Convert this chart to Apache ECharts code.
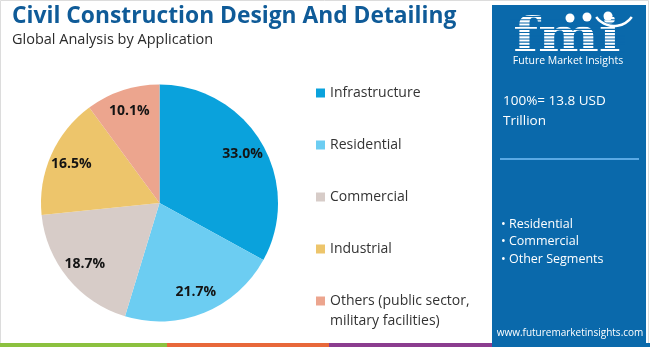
<!DOCTYPE html>
<html>
<head>
<meta charset="utf-8">
<script src="https://cdn.jsdelivr.net/npm/echarts@6/dist/echarts.min.js"></script>
<style>
  html, body { margin: 0; padding: 0; background: #fff; }
  #chart { width: 650px; height: 347px; }
</style>
</head>
<body>
<div id="chart"></div>
<script>
// Market share by application (percent of 13.8 USD trillion)
const categories = [
  'Infrastructure',
  'Residential',
  'Commercial',
  'Industrial',
  'Others (public sector,\nmilitary facilities)'
];
const shares = [33.0, 21.7, 18.7, 16.5, 10.1];
const sliceColors = ['#0aa2dc', '#6ccdf2', '#d7ccc8', '#edc56b', '#eca58e'];

const titleText = 'Civil Construction Design And Detailing';
const subtitleText = 'Global Analysis by Application';
const totalLines = ['100%= 13.8 USD', 'Trillion'];
const otherSegments = ['Residential', 'Commercial', 'Other Segments'];

const FONT = '"Open Sans", "Noto Sans", sans-serif';
const PANEL = '#0a69ab';

const chart = echarts.init(document.getElementById('chart'), null, { renderer: 'canvas' });

const pieData = categories.map((name, i) => ({
  name: name,
  value: shares[i],
  itemStyle: { color: sliceColors[i] }
}));

const center = [159.5, 203];
const R = 118.5;

// Legend geometry: first row centre, row pitch, text start
const LEGEND_LEFT = 316, LEGEND_FIRST = 93, LEGEND_PITCH = 52;

// Category names that wrap: the legend row shows the first line,
// continuation lines are set underneath the row's text.
const wrapLines = [];
categories.forEach((name, i) => {
  name.split('\n').slice(1).forEach((line, k) => {
    wrapLines.push({
      type: 'text',
      x: LEGEND_LEFT + 14,
      y: LEGEND_FIRST + i * LEGEND_PITCH + (k + 1) * 20,
      style: { text: line, fontFamily: FONT, fontSize: 14, fill: '#333', verticalAlign: 'middle' },
      z: 10
    });
  });
});

// Stripes drawn across the logo lettering
const stripes = [];
for (let y = 16; y <= 52; y += 3.2) {
  stripes.push({
    type: 'rect',
    shape: { x: 510, y: y, width: 115, height: 1.1 },
    style: { fill: PANEL },
    z: 12
  });
}

option = {
  backgroundColor: '#ffffff',
  animation: false,
  legend: {
    orient: 'vertical',
    left: LEGEND_LEFT,
    top: LEGEND_FIRST - 10,
    height: 300,
    padding: 0,
    icon: 'rect',
    itemWidth: 9,
    itemHeight: 9,
    itemGap: LEGEND_PITCH - 20,
    selectedMode: false,
    formatter: name => name.split('\n')[0],
    textStyle: { fontFamily: FONT, fontSize: 14, color: '#333', lineHeight: 20 },
    data: categories
  },
  series: [
    {
      type: 'pie',
      center: center,
      radius: [0, R],
      startAngle: 90,
      clockwise: true,
      label: { show: false },
      labelLine: { show: false },
      silent: true,
      data: pieData
    },
    {
      // transparent ring used only to place value labels further out
      type: 'pie',
      center: center,
      radius: [R * 0.58, R],
      startAngle: 90,
      clockwise: true,
      silent: true,
      legendHoverLink: false,
      itemStyle: { color: 'rgba(0,0,0,0)' },
      label: {
        show: true,
        position: 'inside',
        formatter: p => p.value.toFixed(1) + '%',
        fontFamily: FONT,
        fontWeight: 'bold',
        fontSize: 14,
        color: '#141414'
      },
      labelLine: { show: false },
      data: pieData.map(d => ({ name: d.name, value: d.value }))
    }
  ],
  graphic: [
    // outer frame
    { type: 'rect', shape: { x: 0.5, y: 0.5, width: 648, height: 345 },
      style: { fill: 'none', stroke: '#dcdcdc', lineWidth: 1 }, z: 1 },
    // title
    { type: 'text', x: 12, y: 17,
      style: { text: titleText, fontFamily: FONT, fontWeight: 'bold', fontSize: 22.8, fill: '#0f5b98',
               verticalAlign: 'middle' }, z: 10 },
    { type: 'text', x: 12, y: 40,
      style: { text: subtitleText, fontFamily: FONT, fontSize: 14.5, fill: '#2b2b2b',
               verticalAlign: 'middle' }, z: 10 },
    ...wrapLines,
    // right panel
    { type: 'rect', shape: { x: 492, y: 5, width: 154, height: 338 },
      style: { fill: PANEL }, z: 5 },
    // logo
    { type: 'text', x: 567, y: 39, scaleX: 1.25, scaleY: 1,
      style: { text: 'fmi', fontFamily: '"DejaVu Serif", serif', fontWeight: 'bold', fontSize: 46,
               fill: '#ffffff', align: 'center', verticalAlign: 'middle' }, z: 11 },
    ...stripes,
    { type: 'circle', shape: { cx: 570, cy: 18, r: 4.5 }, style: { fill: '#ffffff' }, z: 13 },
    { type: 'circle', shape: { cx: 587, cy: 17, r: 4.5 }, style: { fill: '#ffffff' }, z: 13 },
    { type: 'circle', shape: { cx: 608, cy: 16, r: 4.5 }, style: { fill: '#ffffff' }, z: 13 },
    { type: 'arc', shape: { cx: 614, cy: 4, r: 22, startAngle: Math.PI * 0.2, endAngle: Math.PI * 0.8 },
      style: { stroke: '#ffffff', lineWidth: 2.5, fill: 'none' }, z: 13 },
    { type: 'text', x: 568, y: 61,
      style: { text: 'Future Market Insights', fontFamily: FONT, fontSize: 10.5, fill: '#ffffff',
               align: 'center', verticalAlign: 'middle' }, z: 13 },
    // total value
    { type: 'text', x: 503, y: 101,
      style: { text: totalLines.join('\n'), fontFamily: FONT, fontSize: 13.5, lineHeight: 20, fill: '#ffffff',
               verticalAlign: 'top', padding: [-10, 0, 0, 0] }, z: 10 },
    { type: 'rect', shape: { x: 500, y: 158, width: 139, height: 2 },
      style: { fill: '#5aa9e4' }, z: 10 },
    { type: 'text', x: 501, y: 215.5,
      style: { text: otherSegments.map(s => '\u2022 ' + s).join('\n'), fontFamily: FONT, fontSize: 12.5,
               lineHeight: 17.5, fill: '#ffffff', verticalAlign: 'top' }, z: 10 },
    { type: 'text', x: 570, y: 333,
      style: { text: 'www.futuremarketinsights.com', fontFamily: FONT, fontSize: 10, fill: '#ffffff',
               align: 'center', verticalAlign: 'middle' }, z: 10 },
    // bottom colour strip
    { type: 'rect', shape: { x: 0, y: 343, width: 167, height: 4 }, style: { fill: '#8cc13f' }, z: 10 },
    { type: 'rect', shape: { x: 167, y: 343, width: 162, height: 4 }, style: { fill: '#e8683a' }, z: 10 },
    { type: 'rect', shape: { x: 329, y: 343, width: 163, height: 4 }, style: { fill: '#8b3d8f' }, z: 10 },
    { type: 'rect', shape: { x: 492, y: 343, width: 158, height: 4 }, style: { fill: PANEL }, z: 10 }
  ]
};

chart.setOption(option);
</script>
</body>
</html>
